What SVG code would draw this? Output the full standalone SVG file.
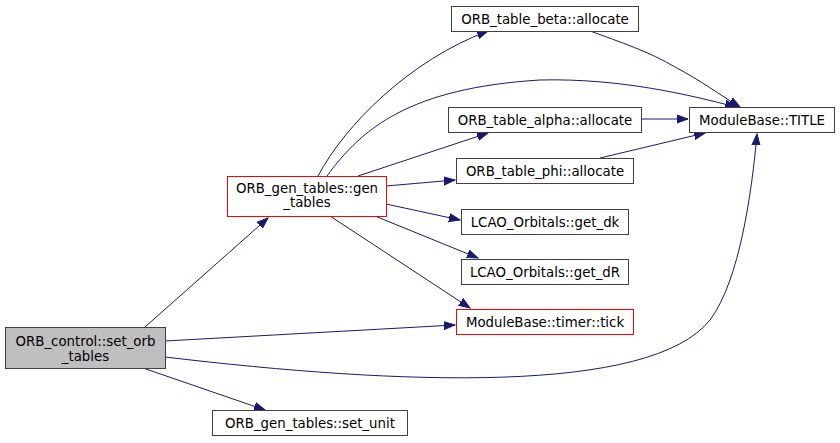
<svg xmlns="http://www.w3.org/2000/svg" width="840" height="443" viewBox="0 0 840 443">
<style>
.n rect{fill:#fff;stroke:#404040;stroke-width:1}
.n.r rect{stroke:#ff0000}
.n.g rect{fill:#bfbfbf}
text{font-family:"DejaVu Sans",sans-serif;font-size:13.33px;fill:#000;text-anchor:middle}
.e path{fill:none;stroke:#191970;stroke-width:1;marker-end:url(#a)}
</style>
<defs>
<marker id="a" markerUnits="userSpaceOnUse" markerWidth="12" markerHeight="10" refX="11" refY="4" orient="auto" viewBox="0 0 12 8">
<path d="M0,0 L11,4 L0,8 Z" fill="#191970" stroke="#191970"/>
</marker>
</defs>
<rect width="840" height="443" fill="#fff"/>
<g class="e">
<path d="M145,327 L268,218"/>
<path d="M165,341 L455,325"/>
<path d="M165,357 C400,385 650,395 710,320 C740,280 752,190 757,134"/>
<path d="M143,368 L265,410"/>
<path d="M318,176 C345,125 410,60 488,31"/>
<path d="M327,176 C362,128 410,88 540,80 C620,78 690,95 736,107"/>
<path d="M358,176 L488,133"/>
<path d="M386,186 L455,180"/>
<path d="M386,204 L460,220"/>
<path d="M375,216 L478,258"/>
<path d="M330,216 L470,308"/>
<path d="M641,119 L688,119"/>
<path d="M590,31 C620,42 650,52 675,67 C700,80 720,95 740,107"/>
<path d="M600,158 L705,133"/>
</g>
<g id="n0" class="n g"><rect x="5.5" y="327.5" width="160" height="41"/><text x="85.5" y="346">ORB_control::set_orb</text><text x="85.5" y="361">_tables</text></g>
<g id="n1" class="n r"><rect x="227.5" y="176.5" width="159" height="40"/><text x="307" y="193">ORB_gen_tables::gen</text><text x="307" y="207">_tables</text></g>
<g id="n2" class="n"><rect x="451.5" y="6.5" width="187" height="25"/><text x="545" y="23.5">ORB_table_beta::allocate</text></g>
<g id="n3" class="n"><rect x="448.5" y="107.5" width="193" height="25"/><text x="545" y="124.5">ORB_table_alpha::allocate</text></g>
<g id="n4" class="n"><rect x="456.5" y="158.5" width="177" height="25"/><text x="545" y="175.5">ORB_table_phi::allocate</text></g>
<g id="n5" class="n"><rect x="689.5" y="107.5" width="145" height="25"/><text x="762" y="124.5">ModuleBase::TITLE</text></g>
<g id="n6" class="n"><rect x="461.5" y="209.5" width="167" height="25"/><text x="545" y="226.5">LCAO_Orbitals::get_dk</text></g>
<g id="n7" class="n"><rect x="461.5" y="259.5" width="167" height="25"/><text x="545" y="276.5">LCAO_Orbitals::get_dR</text></g>
<g id="n8" class="n r"><rect x="456.5" y="309.5" width="177" height="25"/><text x="545" y="326.5">ModuleBase::timer::tick</text></g>
<g id="n9" class="n"><rect x="212.5" y="410.5" width="195" height="25"/><text x="310" y="427.5">ORB_gen_tables::set_unit</text></g>
</svg>
